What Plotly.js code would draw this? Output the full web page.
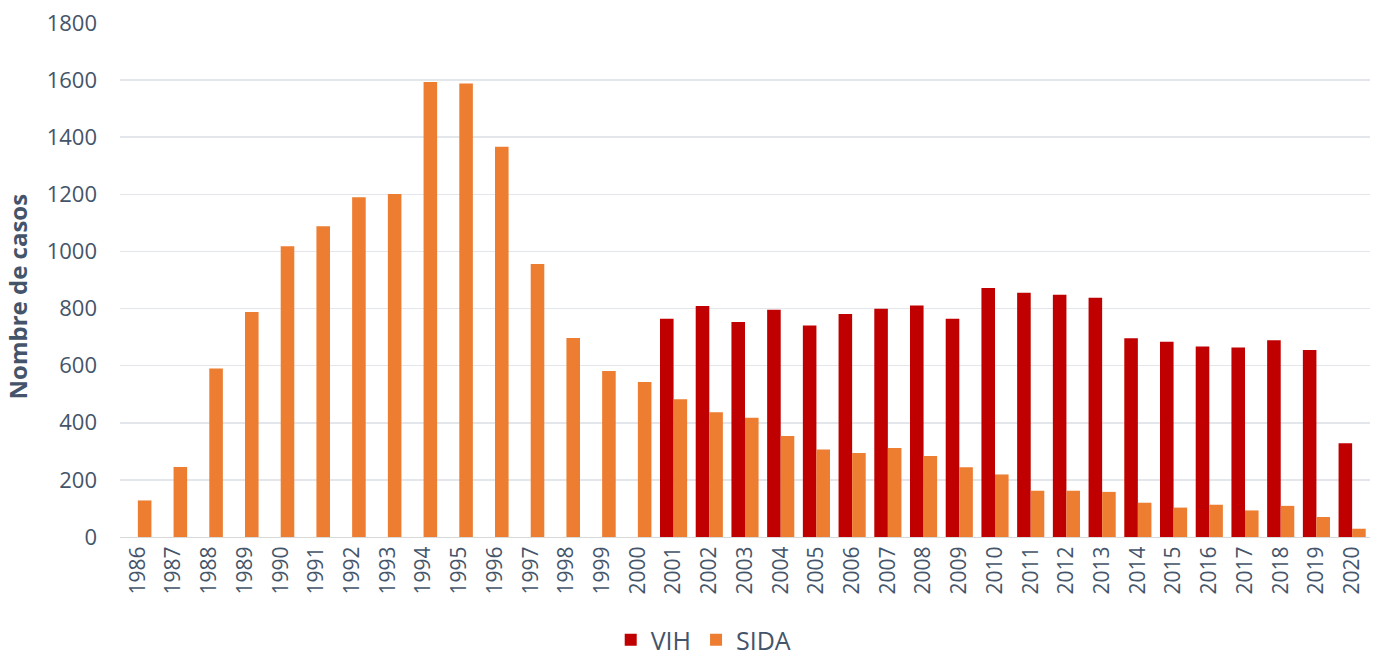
<!DOCTYPE html>
<html>
<head>
<meta charset="utf-8">
<script src="https://cdn.plot.ly/plotly-3.0.1.min.js"></script>
<style>
  html, body { margin: 0; padding: 0; background: #fff; }
  #chart { width: 1388px; height: 666px; }
</style>
</head>
<body>
<div id="chart"></div>
<script>
// Years on the x axis
const years = [
  '1986', '1987', '1988', '1989', '1990', '1991', '1992', '1993', '1994', '1995',
  '1996', '1997', '1998', '1999', '2000', '2001', '2002', '2003', '2004', '2005',
  '2006', '2007', '2008', '2009', '2010', '2011', '2012', '2013', '2014', '2015',
  '2016', '2017', '2018', '2019', '2020'
];

// VIH cases (no data before 2001)
const vih = [
  null, null, null, null, null, null, null, null, null, null,
  null, null, null, null, null, 764, 809, 753, 796, 741,
  781, 799, 811, 764, 872, 855, 848, 838, 696, 684,
  667, 664, 689, 655, 328
];

// SIDA cases
const sida = [
  128, 245, 590, 788, 1018, 1088, 1190, 1201, 1593, 1588,
  1367, 956, 697, 581, 543, 482, 437, 418, 354, 306,
  294, 312, 284, 244, 219, 162, 162, 158, 120, 103,
  113, 93, 109, 70, 29
];

const yTicks = [0, 200, 400, 600, 800, 1000, 1200, 1400, 1600, 1800];

const textColor = '#44546a';
const fontFamily = '"Open Sans", "Liberation Sans", sans-serif';

const traces = [
  {
    type: 'bar',
    name: 'VIH',
    x: years,
    y: vih,
    marker: { color: '#c00000' },
    hoverinfo: 'x+y+name'
  },
  {
    type: 'bar',
    name: 'SIDA',
    x: years,
    y: sida,
    marker: { color: '#ed7d31' },
    hoverinfo: 'x+y+name'
  }
];

const layout = {
  width: 1388,
  height: 666,
  margin: { l: 120, r: 18, t: 23, b: 129, autoexpand: false },
  paper_bgcolor: '#ffffff',
  plot_bgcolor: '#ffffff',
  font: { family: fontFamily, color: textColor, size: 21 },
  barmode: 'group',
  bargap: 0.24,
  bargroupgap: 0,
  showlegend: true,
  legend: {
    orientation: 'h',
    xref: 'container',
    yref: 'container',
    x: 0.507,
    xanchor: 'center',
    y: 0.039,
    yanchor: 'middle',
    font: { size: 25, color: textColor },
    itemwidth: 30,
    tracegroupgap: 0
  },
  xaxis: {
    type: 'category',
    tickangle: -90,
    tickfont: { size: 21, color: textColor },
    showgrid: false,
    showline: true,
    linecolor: '#d9d9d9',
    linewidth: 1,
    ticks: '',
    automargin: false,
    fixedrange: true
  },
  yaxis: {
    range: [0, 1800],
    tickvals: yTicks,
    ticktext: yTicks.map(String),
    tickfont: { size: 22, color: textColor },
    showgrid: true,
    gridcolor: '#e3e6eb',
    gridwidth: 1.5,
    zeroline: false,
    showline: false,
    ticks: '',
    ticklabelstandoff: 22,
    automargin: false,
    fixedrange: true
  },
  annotations: [
    {
      text: '<b>Nombre de casos</b>',
      xref: 'paper',
      yref: 'paper',
      x: -0.082,
      y: 0.467,
      xanchor: 'center',
      yanchor: 'middle',
      textangle: -90,
      showarrow: false,
      font: { size: 24, color: textColor, family: fontFamily }
    }
  ]
};

Plotly.newPlot('chart', traces, layout, { displayModeBar: false, staticPlot: true });
</script>
</body>
</html>
